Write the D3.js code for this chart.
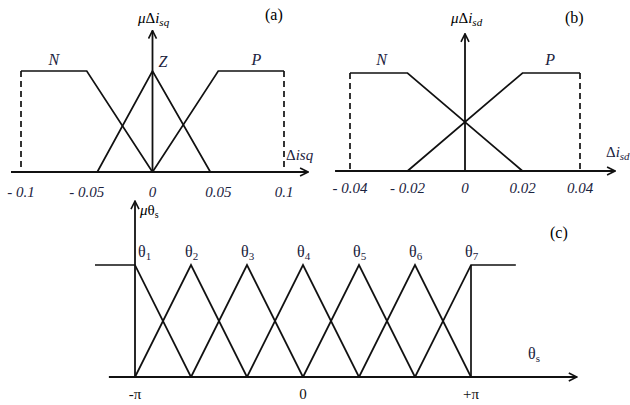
<!DOCTYPE html>
<html>
<head>
<meta charset="utf-8">
<script src="https://cdn.jsdelivr.net/npm/d3@7"></script>
<style>
  body { margin: 0; background: #fff; }
</style>
</head>
<body>
<svg id="chart" width="630" height="405" font-family="Liberation Serif, Times New Roman, serif"></svg>
<script>
// (a) membership functions of delta isq
const aTicks = [-0.1, -0.05, 0, 0.05, 0.1];
const aTickText = ['- 0.1', '- 0.05', '0', '0.05', '0.1'];
const aNames = ['N', 'Z', 'P'];
const aNameX = [-0.075, 0.008, 0.079];
const aN = [[-0.1, 1], [-0.05, 1], [0, 0]];
const aZ = [[-0.042, 0], [0, 1], [0.044, 0]];
const aP = [[0, 0], [0.05, 1], [0.1, 1]];
const aAxis = [-0.1076, 0.1183];

// (b) membership functions of delta isd
const bTicks = [-0.04, -0.02, 0, 0.02, 0.04];
const bTickText = ['- 0.04', '- 0.02', '0', '0.02', '0.04'];
const bNames = ['N', 'P'];
const bNameX = [-0.029, 0.0296];
const bN = [[-0.04, 1], [-0.02, 1], [0.02, 0]];
const bP = [[-0.02, 0], [0.02, 1], [0.04, 1]];
const bAxis = [-0.0452, 0.0522];

// (c) membership functions of theta s
const cPeaks = [-3, -2, -1, 0, 1, 2, 3].map((k) => (k * Math.PI) / 3);
const cTicks = [-Math.PI, 0, Math.PI];
const cTickText = ['-π', '0', '+π'];
const cFlat = [-3.89, 3.98];
const cAxis = [-3.63, 5.12];

const svg = d3.select('#chart');
const ink = '#111';
const navy = '#1b2340';

svg.append('defs')
  .append('marker')
  .attr('id', 'arrow')
  .attr('viewBox', '0 0 10 10')
  .attr('refX', 9)
  .attr('refY', 5)
  .attr('markerWidth', 10)
  .attr('markerHeight', 10)
  .attr('markerUnits', 'userSpaceOnUse')
  .attr('orient', 'auto')
  .append('path')
  .attr('d', 'M1,1 L9,5 L1,9')
  .attr('fill', 'none')
  .attr('stroke', ink)
  .attr('stroke-width', 1.6);

const line = (x, y) => d3.line().x((d) => x(d[0])).y((d) => y(d[1]));

function drawPath(g, pts, x, y, dash) {
  g.append('path')
    .attr('d', line(x, y)(pts))
    .attr('fill', 'none')
    .attr('stroke', ink)
    .attr('stroke-width', 1.7)
    .attr('stroke-dasharray', dash || null);
}

// horizontal axis over ext, vertical axis at x = x0 up to y = tip
function axes(g, x, y, ext, x0, tip) {
  g.append('line')
    .attr('x1', x(ext[0])).attr('x2', x(ext[1]))
    .attr('y1', y(0)).attr('y2', y(0))
    .attr('stroke', ink).attr('stroke-width', 1.8)
    .attr('marker-end', 'url(#arrow)');
  g.append('line')
    .attr('x1', x(x0)).attr('x2', x(x0))
    .attr('y1', y(0)).attr('y2', y(tip))
    .attr('stroke', ink).attr('stroke-width', 1.8)
    .attr('marker-end', 'url(#arrow)');
}

function ticks(g, x, y, vals, txt, italic, dy, col) {
  g.selectAll('.tick')
    .data(vals)
    .enter()
    .append('text')
    .attr('x', (d) => x(d))
    .attr('y', y(0) + dy)
    .attr('text-anchor', 'middle')
    .attr('font-size', 15)
    .attr('font-style', italic ? 'italic' : 'normal')
    .attr('fill', col)
    .text((d, i) => txt[i]);
}

// ---------- panel (a)
let xa = d3.scaleLinear().domain([-0.1, 0.1]).range([21, 284]);
let ya = d3.scaleLinear().domain([0, 1]).range([172, 71]);
let ga = svg.append('g');
axes(ga, xa, ya, aAxis, 0, 1.4);
drawPath(ga, aN, xa, ya);
drawPath(ga, aZ, xa, ya);
drawPath(ga, aP, xa, ya);
drawPath(ga, [[-0.1, 1], [-0.1, 0]], xa, ya, '6,4');
drawPath(ga, [[0.1, 1], [0.1, 0]], xa, ya, '6,4');
ticks(ga, xa, ya, aTicks, aTickText, true, 25, navy);
ga.selectAll('.name')
  .data(aNames)
  .enter()
  .append('text')
  .attr('x', (d, i) => xa(aNameX[i]))
  .attr('y', (d) => (d === 'Z' ? 67 : 65))
  .attr('text-anchor', 'middle')
  .attr('font-size', 16)
  .attr('font-style', 'italic')
  .attr('fill', navy)
  .text((d) => d);

let ta = ga.append('text').attr('x', 138).attr('y', 23).attr('font-size', 15);
ta.append('tspan').attr('font-style', 'italic').text('μ');
ta.append('tspan').text('Δ');
ta.append('tspan').attr('font-style', 'italic').text('i');
ta.append('tspan').attr('font-style', 'italic').attr('font-size', 11).attr('dy', 3).text('sq');
ga.append('text').attr('x', 265).attr('y', 20).attr('font-size', 16).text('(a)');
let la = ga.append('text').attr('x', 286).attr('y', 160).attr('font-size', 15).attr('fill', navy);
la.append('tspan').text('Δ');
la.append('tspan').attr('font-style', 'italic').text('isq');

// ---------- panel (b)
let xb = d3.scaleLinear().domain([-0.04, 0.04]).range([350, 580]);
let yb = d3.scaleLinear().domain([0, 1]).range([171, 73]);
let gb = svg.append('g');
axes(gb, xb, yb, bAxis, 0, 1.4);
drawPath(gb, bN, xb, yb);
drawPath(gb, bP, xb, yb);
drawPath(gb, [[-0.04, 1], [-0.04, 0]], xb, yb, '6,4');
drawPath(gb, [[0.04, 1], [0.04, 0]], xb, yb, '6,4');
ticks(gb, xb, yb, bTicks, bTickText, true, 22, navy);
gb.selectAll('.name')
  .data(bNames)
  .enter()
  .append('text')
  .attr('x', (d, i) => xb(bNameX[i]))
  .attr('y', 65)
  .attr('text-anchor', 'middle')
  .attr('font-size', 16)
  .attr('font-style', 'italic')
  .attr('fill', navy)
  .text((d) => d);

let tb = gb.append('text').attr('x', 451).attr('y', 23).attr('font-size', 15);
tb.append('tspan').attr('font-style', 'italic').text('μ');
tb.append('tspan').text('Δ');
tb.append('tspan').attr('font-style', 'italic').text('i');
tb.append('tspan').attr('font-style', 'italic').attr('font-size', 11).attr('dy', 3).text('sd');
gb.append('text').attr('x', 565).attr('y', 23).attr('font-size', 16).text('(b)');
let lb = gb.append('text').attr('x', 606).attr('y', 157).attr('font-size', 15).attr('fill', navy);
lb.append('tspan').text('Δ');
lb.append('tspan').attr('font-style', 'italic').text('i');
lb.append('tspan').attr('font-style', 'italic').attr('font-size', 11).attr('dy', 3).text('sd');

// ---------- panel (c)
let step = Math.PI / 3;
let xc = d3.scaleLinear().domain([-Math.PI, Math.PI]).range([135, 471]);
let yc = d3.scaleLinear().domain([0, 1]).range([377, 265]);
let gc = svg.append('g');
axes(gc, xc, yc, cAxis, -Math.PI, 1.57);
cPeaks.forEach((p, i) => {
  let pts;
  if (i === 0) pts = [[cFlat[0], 1], [p, 1], [p + step, 0]];
  else if (i === cPeaks.length - 1) pts = [[p - step, 0], [p, 1], [cFlat[1], 1]];
  else pts = [[p - step, 0], [p, 1], [p + step, 0]];
  drawPath(gc, pts, xc, yc);
});
drawPath(gc, [[Math.PI, 1], [Math.PI, 0]], xc, yc);

gc.selectAll('.theta')
  .data(cPeaks)
  .enter()
  .append('text')
  .attr('x', (d, i) => xc(d) + (i === 0 ? 3 : -6))
  .attr('y', 257)
  .attr('font-size', 16)
  .attr('fill', navy)
  .each(function (d, i) {
    let t = d3.select(this);
    t.append('tspan').text('θ');
    t.append('tspan').attr('font-size', 11).attr('dy', 3).text(i + 1);
  });
ticks(gc, xc, yc, cTicks, cTickText, false, 22, ink);

let tc = gc.append('text').attr('x', 140).attr('y', 215).attr('font-size', 15);
tc.append('tspan').attr('font-style', 'italic').text('μ');
tc.append('tspan').text('θ');
tc.append('tspan').attr('font-size', 10).attr('dy', 3).text('s');
gc.append('text').attr('x', 550).attr('y', 238).attr('font-size', 16).text('(c)');
let lc = gc.append('text').attr('x', 528).attr('y', 359).attr('font-size', 16).attr('fill', navy);
lc.append('tspan').text('θ');
lc.append('tspan').attr('font-size', 11).attr('dy', 3).text('s');
</script>
</body>
</html>
